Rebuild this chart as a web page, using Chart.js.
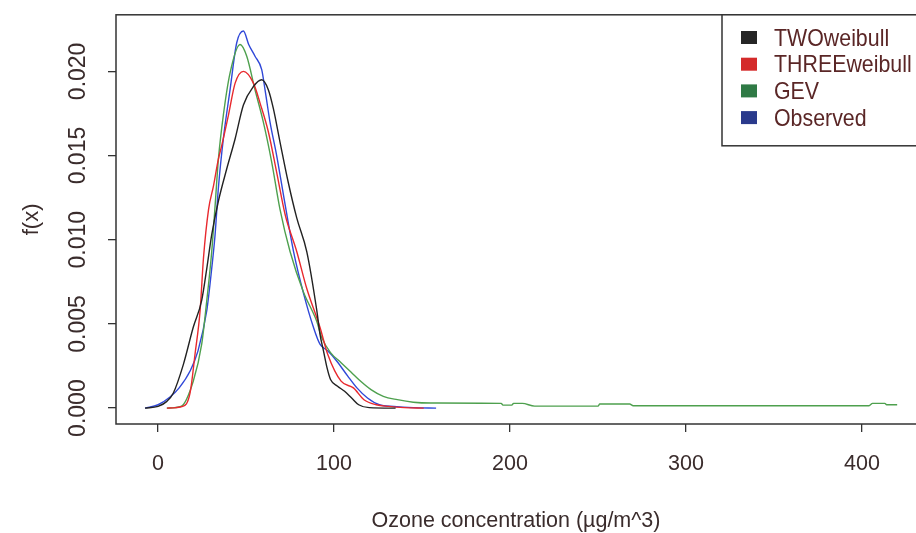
<!DOCTYPE html>
<html>
<head>
<meta charset="utf-8">
<script src="https://cdn.jsdelivr.net/npm/chart.js@4.4.1/dist/chart.umd.min.js"></script>
<style>
  html, body { margin: 0; padding: 0; background: #fff; }
  #wrap { width: 916px; height: 533px; }
</style>
</head>
<body>
<div id="wrap"><canvas id="chart" width="916" height="533"></canvas></div>
<script>
// Valores
const twoX = [-7.4, 0, 5, 8.7, 14.4, 20, 24.8, 27.7, 30.5, 34.3, 39, 43.8, 48.5, 54.2, 58.9, 62.7, 65.5, 69.3, 74, 78.8, 84.5, 90.2, 92, 94, 96, 98, 102, 106, 110, 114, 120, 135];
const twoY = [0, 0.0001, 0.0004, 0.0009, 0.0026, 0.0048, 0.0064, 0.0083, 0.0103, 0.0123, 0.0142, 0.016, 0.018, 0.0191, 0.0195, 0.0189, 0.0178, 0.0158, 0.0134, 0.0113, 0.0093, 0.0058, 0.0044, 0.0034, 0.0024, 0.0017, 0.0013, 0.001, 0.0006, 0.0002, 0.00003, 0];

const threeX = [5, 14, 18.2, 21, 23.9, 25.8, 28.7, 31.5, 34.3, 36.2, 40, 43.8, 48.5, 54.2, 58, 62.7, 67.4, 72.2, 78.8, 84.5, 92, 96.4, 104, 111, 117, 124, 131, 140, 151];
const threeY = [0, 0.0001, 0.0009, 0.0032, 0.0058, 0.0089, 0.0118, 0.0132, 0.0148, 0.0156, 0.0174, 0.0193, 0.02, 0.0193, 0.0181, 0.0164, 0.014, 0.0115, 0.0093, 0.0071, 0.0048, 0.0032, 0.0016, 0.0012, 0.0005, 0.0002, 0.0001, 0.00003, 0];

const gevX = [5, 13, 20, 24.8, 27.7, 30.5, 32.4, 34.3, 37.1, 40.9, 46.6, 50.4, 55.1, 59.8, 64.6, 69.3, 75, 82.6, 90, 93, 98, 104, 110, 114, 121, 128, 136, 145, 155, 195, 196, 201, 202, 207, 214, 250, 251, 268, 270, 404, 406, 413, 414, 420];
const gevY = [0, 0.0001, 0.0016, 0.0038, 0.0064, 0.0093, 0.012, 0.0148, 0.0174, 0.0199, 0.0216, 0.0209, 0.0189, 0.017, 0.0146, 0.0118, 0.0093, 0.0069, 0.0052, 0.0042, 0.0033, 0.0027, 0.0021, 0.0017, 0.0011, 0.0007, 0.0005, 0.00035, 0.0003, 0.00028, 0.00018, 0.00018, 0.00028, 0.00028, 0.00012, 0.00012, 0.00024, 0.00024, 0.00014, 0.00014, 0.00028, 0.00028, 0.0002, 0.0002];

const obsX = [-7.4, 0, 6.8, 12, 18.2, 22.7, 27.7, 30.5, 32.4, 34.3, 37.1, 40.9, 44.7, 48.5, 51.5, 55.1, 58.9, 60.8, 63.6, 67.4, 71.2, 77, 82.7, 88.3, 92, 96.4, 101.5, 107.8, 113, 119, 125.7, 134, 145, 158];
const obsY = [0, 0.0002, 0.00066, 0.0012, 0.0022, 0.0034, 0.0058, 0.0083, 0.0103, 0.0131, 0.016, 0.0189, 0.0217, 0.0224, 0.0216, 0.0209, 0.0201, 0.0189, 0.017, 0.015, 0.0127, 0.0093, 0.0068, 0.0048, 0.0038, 0.0034, 0.0028, 0.0019, 0.0012, 0.0006, 0.0002, 0.0001, 0.00003, 0];

const seriesNames = ['TWOweibull', 'THREEweibull', 'GEV', 'Observed'];
const xTicks = [0, 100, 200, 300, 400];
const yTicks = [0, 0.005, 0.01, 0.015, 0.02];

const lineColors = ['#222222', '#e8292e', '#4ea04e', '#3048d8'];
const boxColors = ['#262626', '#d42a2a', '#2f7a45', '#2a3a8c'];

function toPoints(xs, ys) {
    return xs.map((x, i) => ({ x: x, y: ys[i] }));
}

const allSeries = [[twoX, twoY], [threeX, threeY], [gevX, gevY], [obsX, obsY]];

const datasets = allSeries.map((s, i) => ({
    label: seriesNames[i],
    data: toPoints(s[0], s[1]),
    borderColor: lineColors[i],
    backgroundColor: boxColors[i],
    borderWidth: 1.4,
    pointRadius: 0,
    showLine: true,
    cubicInterpolationMode: 'monotone'
}));

const textColor = '#3a2c2c';
const frameColor = '#333333';
const fontFam = '"Liberation Sans", Arial, sans-serif';

// Caja del grafico y leyenda al estilo R
const frameAndLegend = {
    id: 'frameAndLegend',
    afterDraw(chart) {
        const ctx = chart.ctx;
        const a = chart.chartArea;
        ctx.save();
        ctx.strokeStyle = frameColor;
        ctx.lineWidth = 1.5;
        ctx.strokeRect(a.left, a.top, a.right - a.left + 5, a.bottom - a.top);

        // leyenda
        const lx = 722, ly = a.top, lw = 200, lh = 131;
        ctx.fillStyle = '#fff';
        ctx.fillRect(lx, ly, lw, lh);
        ctx.strokeRect(lx, ly, lw, lh);
        ctx.font = '24px ' + fontFam;
        ctx.textBaseline = 'middle';
        chart.data.datasets.forEach((ds, i) => {
            const cy = 38 + i * 26.7;
            ctx.fillStyle = ds.backgroundColor;
            ctx.fillRect(741, cy - 7, 16, 13);
            ctx.fillStyle = '#5a2626';
            ctx.save();
            ctx.translate(774, cy + 1);
            ctx.scale(0.89, 1);
            ctx.fillText(ds.label, 0, 0);
            ctx.restore();
        });
        ctx.restore();
    }
};

new Chart(document.getElementById('chart'), {
    type: 'scatter',
    data: { datasets: datasets },
    options: {
        responsive: false,
        animation: false,
        layout: { padding: { top: 12, right: 0, bottom: 0, left: 0 } },
        plugins: {
            legend: { display: false },
            tooltip: { enabled: false }
        },
        scales: {
            x: {
                type: 'linear',
                min: -23.9,
                max: 430.7,
                afterBuildTicks(scale) { scale.ticks = xTicks.map(v => ({ value: v })); },
                afterFit(scale) { scale.height = 109; },
                border: { display: false },
                grid: { drawOnChartArea: false, drawTicks: true, tickLength: 8, color: frameColor, lineWidth: 1.3 },
                ticks: {
                    color: textColor,
                    padding: 19,
                    maxRotation: 0,
                    font: { family: fontFam, size: 21.5 }
                },
                title: {
                    display: true,
                    text: 'Ozone concentration (\u00b5g/m^3)',
                    color: textColor,
                    padding: { top: 0, bottom: 1 },
                    font: { family: fontFam, size: 21.5, lineHeight: 1 }
                }
            },
            y: {
                type: 'linear',
                min: -0.000944,
                max: 0.02336,
                afterBuildTicks(scale) { scale.ticks = yTicks.map(v => ({ value: v })); },
                afterFit(scale) { scale.width = 116; },
                border: { display: false },
                grid: { drawOnChartArea: false, drawTicks: true, tickLength: 8, color: frameColor, lineWidth: 1.3 },
                ticks: {
                    color: textColor,
                    padding: 1,
                    minRotation: 90,
                    maxRotation: 90,
                    crossAlign: 'center',
                    callback: v => v.toFixed(3),
                    font: { family: fontFam, size: 23 }
                },
                title: {
                    display: true,
                    text: 'f(x)',
                    color: textColor,
                    padding: { top: 21, bottom: 0 },
                    font: { family: fontFam, size: 22, lineHeight: 1 }
                }
            }
        }
    },
    plugins: [frameAndLegend]
});
</script>
</body>
</html>
